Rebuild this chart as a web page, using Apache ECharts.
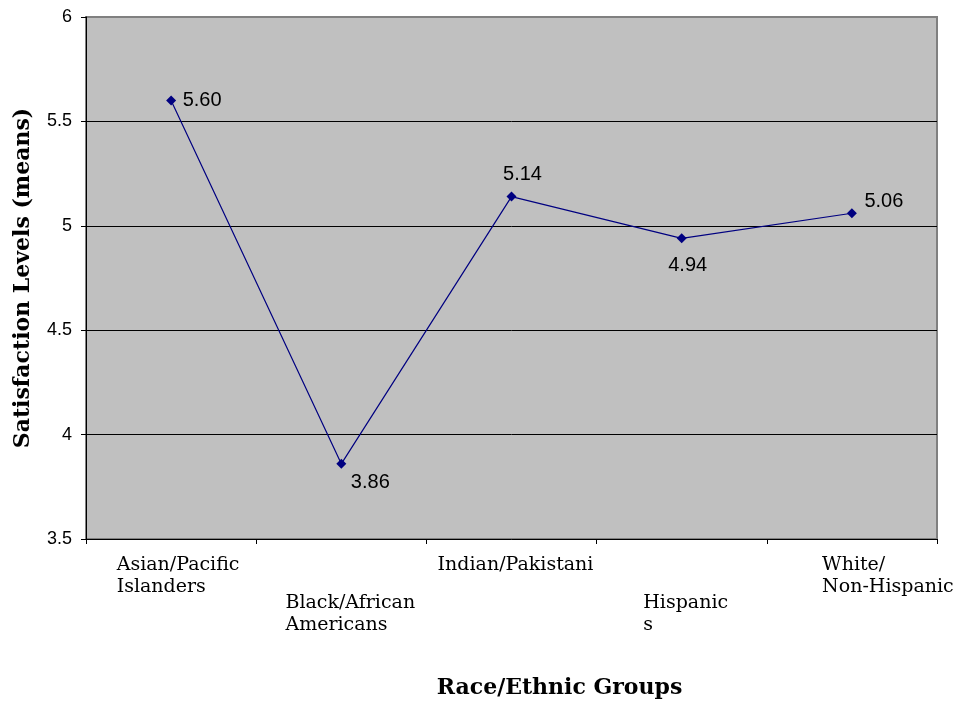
<!DOCTYPE html>
<html>
<head>
<meta charset="utf-8">
<script src="https://cdn.jsdelivr.net/npm/echarts@6/dist/echarts.min.js"></script>
<style>
  html, body { margin: 0; padding: 0; background: #fff; }
  #main { width: 961px; height: 706px; }
</style>
</head>
<body>
<div id="main"></div>
<script>
// categories as wrapped in the original chart
var groups = ['Asian/Pacific\nIslanders', 'Black/African\nAmericans', 'Indian/Pakistani', 'Hispanic\ns', 'White/\nNon-Hispanic'];
var means = [5.60, 3.86, 5.14, 4.94, 5.06];
var yTicks = [3.5, 4, 4.5, 5, 5.5, 6];

// where each data label sits relative to its marker
var labelOffsets = [[31, 0], [29, 19], [11, -22], [6, 27], [32, -12]];
// small horizontal nudges of the category labels (px)
var catShift = [7, 9, 4, 4, 36];

var myChart = echarts.init(document.getElementById('main'));

var serif = '"DejaVu Serif", serif';
var sans = '"Liberation Sans", Arial, sans-serif';

var points = means.map(function (v, i) {
  return {
    value: v,
    label: { position: 'inside', offset: labelOffsets[i] }
  };
});

// one rich style per label so each can get its own left padding
var rich = {};
groups.forEach(function (g, i) {
  var pad = catShift[i] * 2;
  rich['t' + i] = {
    align: 'left', fontFamily: serif, fontSize: 19, color: '#000',
    lineHeight: i % 2 ? 62 : 24,
    verticalAlign: 'bottom',
    padding: [0, 0, 0, pad]
  };
  rich['n' + i] = {
    align: 'left', fontFamily: serif, fontSize: 19, color: '#000',
    lineHeight: 24,
    padding: [0, 0, 0, pad]
  };
});

myChart.setOption({
  animation: false,
  backgroundColor: '#fff',
  grid: {
    left: 86, right: 24, top: 17, bottom: 167,
    show: true,
    backgroundColor: '#C0C0C0',
    borderColor: '#808080',
    borderWidth: 2
  },
  xAxis: {
    type: 'category',
    data: groups,
    boundaryGap: true,
    name: 'Race/Ethnic Groups',
    nameLocation: 'middle',
    nameGap: 138,
    nameTextStyle: {
      fontFamily: serif, fontSize: 22, fontWeight: 'bold', color: '#000',
      padding: [0, 0, 0, 96]
    },
    axisLine: { lineStyle: { color: '#000', width: 1 } },
    axisTick: { show: true, length: 5, lineStyle: { color: '#000' } },
    axisLabel: {
      interval: 0,
      margin: 12,
      color: '#000',
      formatter: function (val, idx) {
        var lines = val.split('\n');
        return lines.map(function (l, i) {
          var s = (i === 0 ? 't' : 'n') + idx;
          return '{' + s + '|' + l + '}';
        }).join('\n');
      },
      rich: rich
    },
    splitLine: { show: false }
  },
  yAxis: {
    type: 'value',
    min: yTicks[0],
    max: yTicks[yTicks.length - 1],
    interval: 0.5,
    name: 'Satisfaction Levels (means)',
    nameLocation: 'middle',
    nameRotate: 90,
    nameGap: 52,
    nameTextStyle: { fontFamily: serif, fontSize: 22, fontWeight: 'bold', color: '#000' },
    axisLine: { show: true, lineStyle: { color: '#000', width: 1 } },
    axisTick: { show: true, length: 5, lineStyle: { color: '#000' } },
    axisLabel: { margin: 14, fontFamily: sans, fontSize: 18, color: '#000' },
    splitLine: {
      show: true,
      showMinLine: false,
      showMaxLine: false,
      lineStyle: { color: '#000', width: 1 }
    }
  },
  series: [
    {
      name: 'Satisfaction',
      type: 'line',
      data: points,
      symbol: 'diamond',
      symbolSize: 10,
      itemStyle: { color: '#000080' },
      lineStyle: { color: '#000080', width: 1.2 },
      label: {
        show: true,
        fontFamily: sans,
        fontSize: 20,
        color: '#000',
        formatter: function (p) { return p.value.toFixed(2); }
      }
    }
  ]
});
</script>
</body>
</html>
